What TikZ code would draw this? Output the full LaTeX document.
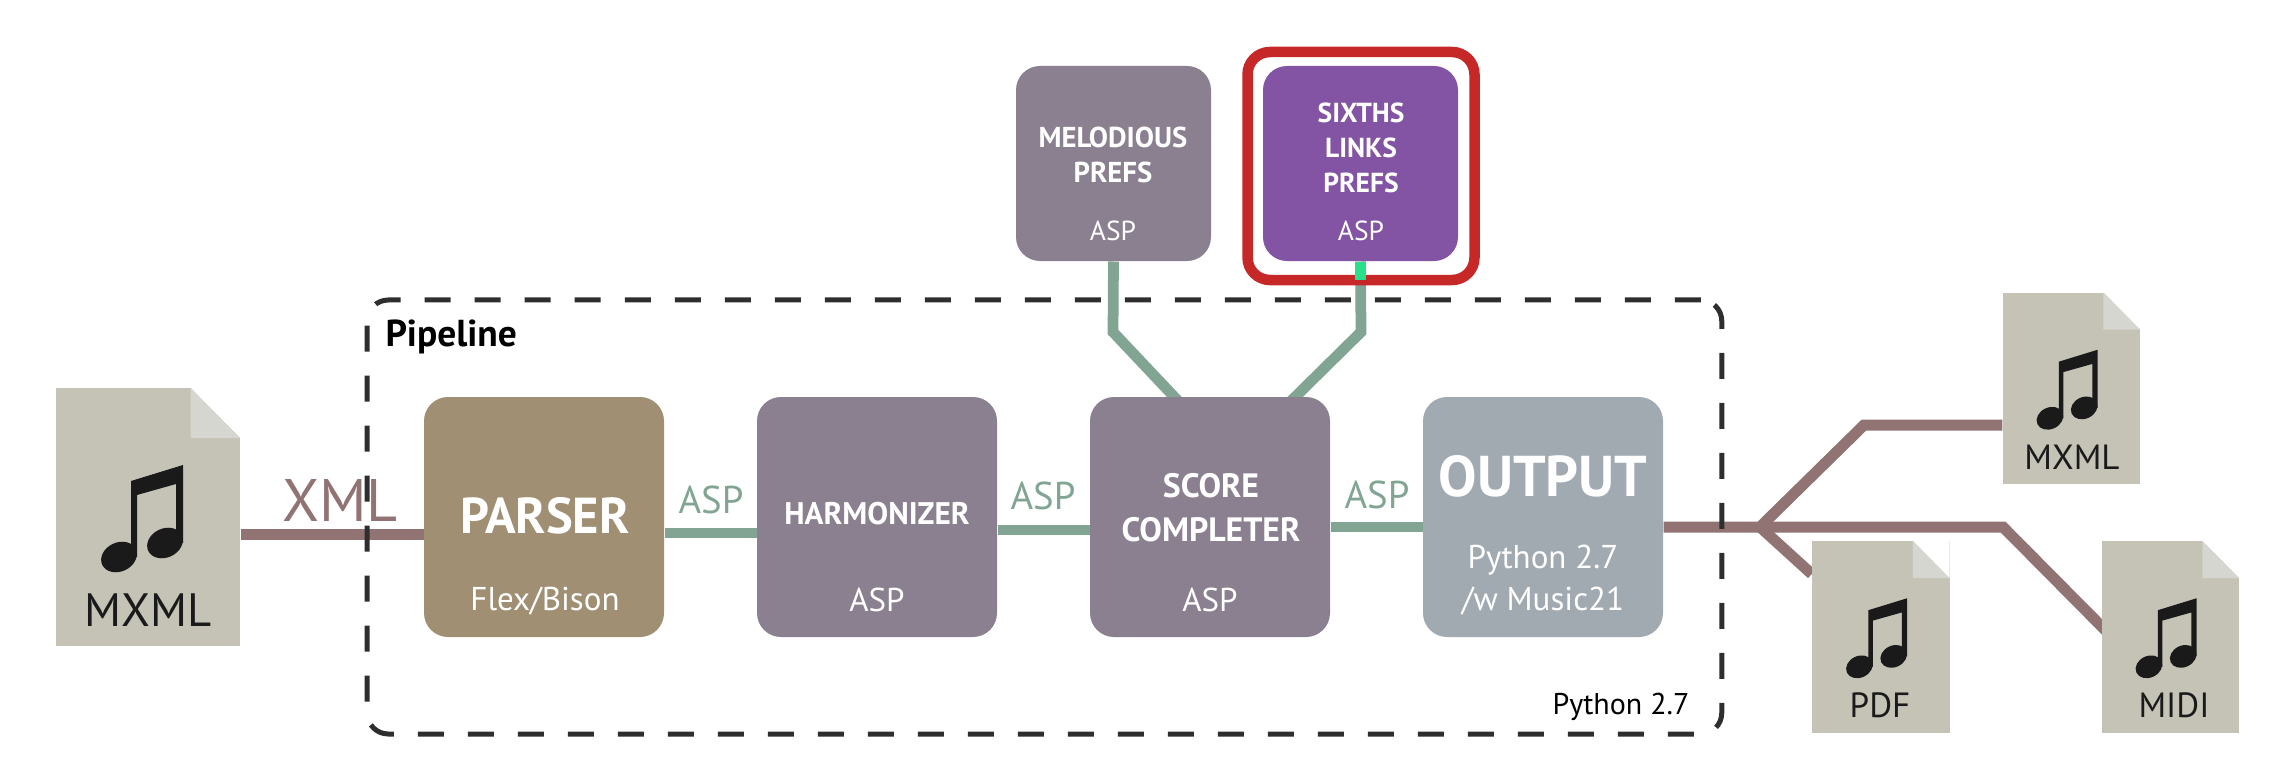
\documentclass[tikz,border=0pt]{standalone}
\usepackage{fontspec}
\setmainfont{PT Sans}
\usetikzlibrary{arrows.meta,positioning,calc,backgrounds}
\definecolor{Tan}{HTML}{A08F73}
\definecolor{Mauve}{HTML}{8A808F}
\definecolor{Steel}{HTML}{A1A9B1}
\definecolor{Purple}{HTML}{8354A3}
\definecolor{Frame}{HTML}{C62828}
\definecolor{Sage}{HTML}{82A593}
\definecolor{Rust}{HTML}{917373}
\definecolor{Paper}{HTML}{C5C3B6}
\definecolor{Fold}{HTML}{D6D6D0}
\definecolor{Ink}{HTML}{1A1A1A}
\definecolor{Spark}{HTML}{28E08A}
\tikzset{
 stagebox/.style={rounded corners=9.6pt, minimum width=96pt, minimum height=96pt, inner sep=0pt},
 prefbox/.style={rounded corners=9.6pt, minimum width=78pt, minimum height=78pt, inner sep=0pt},
 bigtitle/.style={text=white, font=\bfseries\fontsize{20.2}{24}\selectfont, anchor=base},
 boxtitle/.style={text=white, font=\bfseries\fontsize{12.5}{17.5}\selectfont, align=center, inner sep=0pt},
 boxsub/.style={text=white, font=\fontsize{13.2}{17}\selectfont, align=center, inner sep=0pt},
 wirelabel/.style={text=Sage, font=\fontsize{15.5}{15}\selectfont, anchor=base, inner sep=0pt},
 brownwire/.style={draw=Rust, line width=4.4pt, line join=miter},
 sagewire/.style={draw=Sage, line width=4.3pt, line join=miter},
 docnode/.style={fill=Paper, inner sep=0pt, minimum width=73.6pt, minimum height=103.2pt},
 smalldoc/.style={docnode, minimum width=55pt, minimum height=76.6pt},
 doclabel/.style={text=Ink, anchor=base, inner sep=0pt, font=\fontsize{18.7}{18}\selectfont},
 smalldoclabel/.style={doclabel, font=\fontsize{14}{14}\selectfont},
 notedoc/.pic={
  \fill[white] (42.6,-129.2) -- (92.2,-129.2) -- (92.2,-79) -- cycle;
  \fill[Fold] (42.6,-129) -- (92,-79) -- (42.6,-79) -- cycle;
  \fill[Ink] (-29,40) ellipse [x radius=18.5, y radius=14.5, rotate=25];
  \fill[Ink] (17,26) ellipse [x radius=18.5, y radius=14.5, rotate=25];
  \fill[Ink] (-17,40) -- (-17,-36) -- (35,-52) -- (35,26) -- (28,26) -- (28,-33) -- (-11,-22) -- (-11,40) -- cycle;
 }
}

\begin{document}
\begin{tikzpicture}[x=0.4pt,y=-0.4pt]
\useasboundingbox (0,0) rectangle (2275,773);
\foreach \name/\x/\clr in {parser/544/Tan,harmonizer/877/Mauve,score/1210/Mauve,outputbox/1543/Steel}{
  \node[stagebox,fill=\clr] (\name) at (\x,517) {};
}
\node[prefbox,fill=Mauve] (melodious) at (1113.5,163.5) {};
\node[prefbox,fill=Purple] (sixths) at (1360.5,163.5) {};
\node[draw=Frame,line width=4.2pt,rounded corners=9pt,minimum width=90.8pt,minimum height=91.2pt,inner sep=0pt] (redframe) at (1361,166) {};
\node[docnode] (mxmlin) at (148,517) {};
\node[smalldoc] (mxmlout) at (2071.5,388.5) {};
\node[smalldoc] (pdfdoc) at (1881,637) {};
\node[smalldoc] (mididoc) at (2170.5,637) {};
\pic at (mxmlin) {notedoc};
\foreach \d in {mxmlout,pdfdoc,mididoc}{
  \pic[scale=0.745] at (\d) {notedoc};
}
% wires
\coordinate (branch) at (1760,527);
\coordinate (upbend) at (1864,425);
\coordinate (downbend) at (2003,527);
\coordinate (midiend) at (2120,645);
\coordinate (melbend) at (1113,332);
\coordinate (melend) at (1180,403);
\coordinate (sixbend) at (1361,332);
\coordinate (sixend) at (1289,403);
\begin{scope}[on background layer]
\draw[brownwire] ([yshift=-6.8pt]mxmlin.east) -- ([yshift=-6.8pt]parser.west);
\draw[sagewire] ([yshift=-6.4pt]parser.east) -- ([yshift=-6.4pt]harmonizer.west);
\draw[sagewire] ([yshift=-5.2pt]harmonizer.east) -- ([yshift=-5.2pt]score.west);
\draw[sagewire] ([yshift=-4pt]score.east) -- ([yshift=-4pt]outputbox.west);
\draw[sagewire] (melodious.south) -- (melbend) -- (melend);
\draw[sagewire] (sixths.south) -- (sixbend) -- (sixend);
\draw[brownwire] ([yshift=-4pt]outputbox.east) -- (branch);
\draw[brownwire] (branch) -- (upbend) -- (upbend -| mxmlout.west);
\draw[brownwire] (branch) -- (downbend) -- (midiend);
\draw[brownwire] (branch) -- (pdfdoc);
\node[draw=black!82,line width=2pt,dash pattern=on 10.4pt off 9.6pt,rounded corners=8.4pt,minimum width=541.8pt,minimum height=173.6pt,inner sep=0pt] (pipeline) at (1044.5,517) {};
\end{scope}
\draw[draw=Spark,line width=4.3pt] (sixths.south) -- ([yshift=2.2pt]sixths.south |- redframe.south);
% texts
\node[bigtitle] (parsertitle) at (545,533) {PARSER};
\node[boxsub] (parsersub) at (545,601) {Flex/Bison};
\node[boxtitle] (harmtitle) at (877,514) {HARMONIZER};
\node[boxsub] (harmsub) at (877,600) {ASP};
\node[boxtitle,font=\bfseries\fontsize{13.5}{17.5}\selectfont] (scoretitle) at (1211,508) {SCORE\\COMPLETER};
\node[boxsub] (scoresub) at (1210,600) {ASP};
\node[bigtitle,font=\bfseries\fontsize{23}{24}\selectfont] (outputtitle) at (1543,496) {OUTPUT};
\node[boxsub] (outputsub) at (1543,580) {Python 2.7\\/w Music21};
\node[boxtitle,font=\bfseries\fontsize{11.5}{14}\selectfont] (meltitle) at (1113,155) {MELODIOUS\\PREFS};
\node[boxsub,font=\fontsize{11}{12}\selectfont] (melsub) at (1113,231) {ASP};
\node[boxtitle,font=\bfseries\fontsize{11}{14}\selectfont] (sixtitle) at (1361,148) {SIXTHS\\LINKS\\PREFS};
\node[boxsub,font=\fontsize{11}{12}\selectfont] (sixsub) at (1361,231) {ASP};
\node[wirelabel,text=Rust,font=\fontsize{24}{25}\selectfont] (xmllabel) at (340,521) {XML};
\node[wirelabel] (asplabela) at (711,513) {ASP};
\node[wirelabel] (asplabelb) at (1043,509) {ASP};
\node[wirelabel] (asplabelc) at (1377,508) {ASP};
\node[anchor=base west,inner sep=0pt,font=\bfseries\fontsize{15}{14}\selectfont] (pipelinelabel) at (385,346) {Pipeline};
\node[anchor=base east,inner sep=0pt,font=\fontsize{12}{14}\selectfont] (pythonlabel) at (1690,714) {Python 2.7};
\node[doclabel] (mxmlinlabel) at (148,626) {MXML};
\node[smalldoclabel] (mxmloutlabel) at (2072,469) {MXML};
\node[smalldoclabel] (pdflabel) at (1880,717) {PDF};
\node[smalldoclabel] (midilabel) at (2174,717) {MIDI};
\end{tikzpicture}
\end{document}
